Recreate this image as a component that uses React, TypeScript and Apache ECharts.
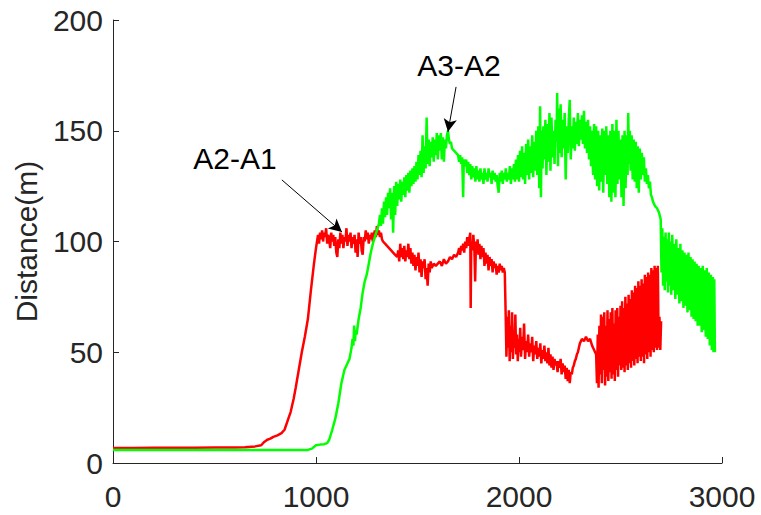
import React, { useEffect, useRef } from "react";
import * as echarts from "echarts";

// A2-A1 (red) distance samples [time, distance]
const redPoints: [number, number][] = [
  [0, 6.8], [100, 6.8], [200, 6.9], [300, 6.9], [400, 6.9], [500, 7], [600, 7], [650, 7.1], [700, 7.5],
  [730, 8], [745, 9.5], [760, 10.5], [775, 11], [790, 11.8], [810, 12.5], [830, 13.5], [845, 15],
  [860, 19], [875, 23], [890, 29], [900, 34], [915, 42], [930, 50], [945, 57], [960, 65], [975, 78], [990, 90],
  [1000, 97], [1005, 100], [1010, 103], [1015, 99], [1020, 104], [1025, 101], [1030, 105], [1035, 100],
  [1040, 104], [1045, 102], [1050, 106], [1055, 99], [1060, 103], [1065, 101], [1070, 97], [1075, 104],
  [1080, 100], [1085, 103], [1090, 98], [1095, 102], [1100, 95], [1105, 93], [1110, 101], [1115, 97],
  [1120, 104], [1125, 99], [1130, 103], [1135, 97], [1140, 102], [1145, 100], [1150, 106], [1155, 98],
  [1160, 103], [1165, 100], [1170, 104], [1175, 97], [1180, 102], [1185, 99], [1190, 103], [1195, 95],
  [1200, 101], [1205, 93], [1210, 104], [1215, 99], [1220, 102], [1225, 96], [1230, 94], [1235, 102],
  [1240, 100], [1245, 105], [1250, 101], [1255, 104], [1260, 99], [1265, 103], [1270, 101], [1275, 104],
  [1280, 100], [1285, 103], [1290, 105], [1295, 102], [1300, 107], [1305, 103], [1310, 105], [1315, 102],
  [1320, 104], [1325, 101], [1330, 100],
  [1340, 99], [1350, 98], [1360, 97], [1370, 96], [1380, 95], [1390, 94], [1400, 93], [1405, 96],
  [1410, 91], [1415, 99], [1420, 93], [1425, 97], [1430, 92], [1435, 98], [1440, 91], [1445, 96],
  [1450, 93], [1455, 99], [1460, 92], [1465, 97], [1470, 90], [1475, 95], [1480, 89], [1485, 94],
  [1490, 87], [1495, 93], [1500, 89], [1505, 95], [1510, 86], [1515, 92], [1520, 84], [1525, 91],
  [1530, 88], [1535, 92], [1540, 83], [1545, 88], [1550, 80], [1555, 90], [1560, 86], [1565, 91],
  [1570, 88], [1580, 90], [1590, 89], [1600, 90], [1610, 91], [1620, 89], [1630, 92], [1640, 90],
  [1650, 91], [1660, 93], [1670, 92], [1680, 94], [1690, 93], [1700, 95], [1705, 97], [1710, 94],
  [1715, 98], [1720, 96], [1725, 99], [1730, 95], [1735, 100], [1740, 97], [1745, 102], [1750, 98],
  [1755, 101], [1760, 104], [1762, 70], [1765, 100], [1770, 96], [1775, 103], [1780, 97], [1784, 82],
  [1788, 100], [1792, 95], [1796, 101], [1800, 94], [1805, 99], [1810, 92], [1815, 98], [1820, 93],
  [1825, 97], [1830, 89], [1835, 95], [1840, 90], [1845, 94], [1850, 87], [1855, 93], [1860, 89],
  [1865, 92], [1870, 86], [1875, 91], [1880, 88], [1885, 90], [1890, 85], [1895, 89], [1900, 86],
  [1905, 90], [1910, 87], [1915, 89], [1920, 86], [1925, 88], [1930, 86],
  [1935, 64], [1938, 48], [1942, 66], [1946, 52], [1950, 69], [1954, 46], [1958, 62], [1962, 50],
  [1966, 68], [1970, 47], [1974, 60], [1978, 52], [1982, 67], [1986, 49], [1990, 58], [1994, 46],
  [1998, 56], [2002, 50], [2006, 61], [2010, 48], [2015, 57], [2020, 51], [2025, 63], [2030, 47],
  [2035, 55], [2040, 50], [2045, 58], [2050, 48], [2055, 54], [2060, 50], [2065, 57], [2070, 46],
  [2075, 53], [2080, 49], [2085, 55], [2090, 47], [2095, 52], [2100, 48], [2105, 54], [2110, 45],
  [2115, 51], [2120, 47], [2125, 53], [2130, 46], [2135, 50], [2140, 45], [2145, 52], [2150, 44],
  [2155, 49], [2160, 43], [2165, 48], [2170, 42], [2175, 47], [2180, 44], [2185, 46], [2190, 41],
  [2195, 46], [2200, 43], [2205, 47], [2210, 40], [2215, 45], [2220, 41], [2225, 44], [2230, 38],
  [2235, 43], [2240, 37], [2245, 42], [2250, 36], [2255, 41], [2260, 40], [2265, 43], [2270, 44],
  [2275, 46], [2280, 47], [2285, 49], [2290, 50], [2295, 52], [2300, 54], [2310, 56], [2320, 55],
  [2330, 57], [2340, 55], [2350, 56], [2360, 53], [2370, 51], [2380, 49],
  [2384, 36], [2388, 58], [2392, 34], [2396, 62], [2400, 40], [2404, 67], [2408, 36], [2412, 66],
  [2416, 42], [2420, 68], [2424, 35], [2428, 62], [2432, 39], [2436, 69], [2440, 37], [2444, 65],
  [2448, 41], [2452, 68], [2456, 38], [2460, 70], [2464, 40], [2468, 63], [2472, 37], [2476, 69],
  [2480, 42], [2484, 70], [2488, 39], [2492, 66], [2496, 44], [2500, 71], [2504, 42], [2508, 73],
  [2512, 43], [2516, 70], [2520, 41], [2524, 75], [2528, 44], [2532, 72], [2536, 42], [2540, 76],
  [2544, 45], [2548, 74], [2552, 43], [2556, 78], [2560, 46], [2564, 77], [2568, 44], [2572, 80],
  [2576, 47], [2580, 79], [2584, 45], [2588, 82], [2592, 48], [2596, 80], [2600, 46], [2604, 83],
  [2608, 48], [2612, 81], [2616, 45], [2620, 85], [2624, 49], [2628, 84], [2632, 47], [2636, 86],
  [2640, 50], [2644, 85], [2648, 48], [2652, 88], [2656, 51], [2660, 87], [2664, 50], [2668, 89],
  [2672, 52], [2676, 88], [2680, 51], [2684, 89], [2688, 52], [2692, 66], [2696, 51], [2700, 64],
];

// A3-A2 (green) distance samples [time, distance]
const greenPoints: [number, number][] = [
  [0, 5.9], [200, 5.9], [400, 5.9], [600, 5.9], [800, 5.9], [960, 5.9], [980, 6.5], [1000, 8],
  [1020, 8.3], [1040, 8.5], [1055, 9], [1065, 10.5], [1080, 15], [1095, 20], [1110, 27], [1125, 36],
  [1140, 42], [1155, 45], [1165, 47], [1175, 52], [1180, 56], [1184, 53], [1188, 62], [1192, 55],
  [1196, 60], [1200, 58], [1210, 65], [1220, 70], [1230, 77], [1240, 82], [1250, 85], [1260, 90],
  [1270, 95], [1280, 99], [1290, 102], [1300, 105], [1310, 108],
  [1315, 112], [1320, 107], [1325, 115], [1330, 108], [1335, 118], [1340, 111], [1345, 120], [1350, 112],
  [1355, 122], [1360, 115], [1365, 124], [1370, 110], [1375, 122], [1380, 104], [1385, 125], [1390, 112],
  [1395, 127], [1400, 116], [1405, 126], [1410, 119], [1415, 128], [1420, 118], [1425, 127], [1430, 121],
  [1435, 129], [1440, 120], [1445, 130], [1450, 123], [1455, 131], [1460, 122], [1465, 132], [1470, 125],
  [1475, 133], [1480, 126], [1485, 134], [1490, 127], [1495, 136], [1500, 128], [1505, 139], [1510, 130],
  [1515, 141], [1520, 129], [1525, 148], [1530, 131], [1535, 143], [1540, 133], [1545, 156], [1550, 135],
  [1555, 146], [1560, 134], [1565, 145], [1570, 138], [1575, 147], [1580, 136], [1585, 146], [1590, 139],
  [1595, 149], [1600, 137], [1605, 148], [1610, 141], [1615, 149], [1620, 137], [1625, 147], [1630, 136],
  [1635, 146], [1640, 142], [1645, 148], [1650, 150],
  [1655, 146], [1660, 144], [1665, 145], [1670, 142], [1680, 141], [1690, 140], [1700, 139], [1705, 136],
  [1710, 139], [1715, 135], [1720, 138], [1725, 120], [1728, 137], [1735, 134], [1740, 137], [1745, 131],
  [1750, 136], [1755, 130], [1760, 135], [1765, 128], [1770, 134], [1775, 129], [1780, 133], [1785, 127],
  [1790, 134], [1795, 128], [1800, 132], [1805, 127], [1810, 133], [1815, 128], [1820, 131], [1825, 126],
  [1830, 133], [1835, 128], [1840, 131], [1845, 127], [1850, 133], [1855, 129], [1860, 131], [1865, 126],
  [1870, 132], [1875, 128], [1880, 131], [1885, 127], [1890, 130], [1895, 125], [1900, 122], [1905, 131],
  [1910, 127], [1915, 132], [1920, 126], [1925, 131], [1930, 128], [1935, 133], [1940, 127], [1945, 131],
  [1950, 128], [1955, 134], [1960, 126], [1965, 133], [1970, 128], [1975, 135], [1980, 127],
  [1985, 137], [1990, 128], [1995, 139], [2000, 127], [2005, 141], [2010, 129], [2015, 143], [2020, 128],
  [2025, 140], [2030, 126], [2035, 144], [2040, 130], [2045, 146], [2050, 128], [2055, 143], [2060, 131],
  [2065, 148], [2070, 129], [2075, 145], [2080, 132], [2085, 150], [2090, 130], [2095, 152], [2100, 124],
  [2104, 161], [2108, 120], [2112, 150], [2116, 133], [2120, 152], [2125, 137], [2130, 155], [2135, 130],
  [2140, 153], [2145, 136], [2150, 158], [2155, 132], [2160, 156], [2165, 138], [2170, 150], [2175, 135],
  [2180, 155], [2185, 145], [2188, 167], [2192, 134], [2196, 160], [2200, 140], [2205, 162], [2210, 138],
  [2215, 155], [2220, 142], [2225, 158], [2230, 128], [2235, 152], [2240, 140], [2245, 155], [2250, 164],
  [2255, 137], [2260, 152], [2265, 142], [2270, 156], [2275, 141], [2280, 154], [2285, 144], [2290, 158],
  [2295, 143], [2300, 155], [2305, 146], [2310, 157], [2315, 144], [2320, 159], [2325, 142], [2330, 154],
  [2335, 140], [2340, 155], [2345, 137], [2350, 152], [2355, 134], [2360, 150], [2365, 130], [2370, 153],
  [2375, 128], [2380, 152], [2385, 125], [2390, 150], [2395, 123], [2400, 148], [2405, 127], [2410, 151],
  [2415, 122], [2420, 150], [2425, 130], [2430, 152], [2435, 126], [2440, 148], [2445, 120], [2450, 150],
  [2455, 118], [2460, 153], [2465, 122], [2470, 150], [2475, 120], [2480, 155], [2485, 126], [2490, 150],
  [2495, 128], [2500, 146], [2505, 120], [2510, 148], [2515, 116], [2520, 150], [2525, 124], [2530, 148],
  [2535, 130], [2538, 158], [2542, 135], [2546, 150], [2550, 132], [2555, 148], [2560, 128], [2565, 146],
  [2570, 127], [2575, 145], [2580, 124], [2585, 143], [2590, 122], [2595, 142], [2600, 128], [2605, 140],
  [2610, 130], [2615, 138], [2620, 127], [2625, 133], [2630, 126], [2635, 130], [2640, 124], [2645, 127],
  [2650, 121], [2655, 120], [2660, 118], [2665, 117], [2670, 116], [2680, 115], [2690, 113], [2698, 110],
  [2702, 86], [2706, 106], [2710, 80], [2714, 102], [2718, 78], [2722, 104], [2726, 82], [2730, 101],
  [2734, 77], [2738, 104], [2742, 80], [2746, 100], [2750, 76], [2755, 103], [2760, 78], [2765, 99],
  [2770, 74], [2775, 101], [2780, 76], [2785, 97], [2790, 72], [2795, 99], [2800, 73], [2805, 96],
  [2810, 70], [2815, 95], [2820, 71], [2825, 94], [2830, 68], [2835, 95], [2840, 69], [2845, 93],
  [2850, 66], [2855, 92], [2860, 65], [2865, 91], [2870, 64], [2875, 90], [2880, 62], [2885, 89],
  [2890, 62], [2895, 88], [2900, 59], [2905, 89], [2910, 60], [2915, 87], [2920, 57], [2925, 88],
  [2930, 56], [2935, 86], [2940, 53], [2945, 85], [2950, 51], [2955, 84], [2958, 50], [2962, 83], [2965, 50],
];

const xRange = [0, 3000];
const xStep = 1000;
const yRange = [0, 200];
const yStep = 50;
const yName = "Distance(m)";

// annotations: label position, arrow start, arrow tip (data coords)
const annotations = [
  { text: "A2-A1", label: [601, 137.5], from: [832, 127.8], to: [1128, 104.3] },
  { text: "A3-A2", label: [1704, 179.5], from: [1690, 169.8], to: [1650, 149.5] },
];

const FONT = '"Liberation Sans", Arial, Helvetica, sans-serif';
const AXIS = "#262626";

export default function App() {
  const ref = useRef<HTMLDivElement>(null);
  useEffect(() => {
    const chart = echarts.init(ref.current!, null, { renderer: "svg" });
    chart.setOption({
      animation: false,
      backgroundColor: "#ffffff",
      grid: { left: 113, top: 20, right: 39, bottom: 52, containLabel: false },
      xAxis: {
        type: "value",
        min: xRange[0],
        max: xRange[1],
        interval: xStep,
        axisLine: { show: true, lineStyle: { color: AXIS, width: 1 } },
        axisTick: { show: true, inside: true, length: 6, lineStyle: { color: AXIS } },
        axisLabel: { color: AXIS, fontSize: 30, fontFamily: FONT, margin: 18, formatter: (v: number) => String(v) },
        splitLine: { show: false },
      },
      yAxis: {
        type: "value",
        min: yRange[0],
        max: yRange[1],
        interval: yStep,
        name: yName,
        nameLocation: "middle",
        nameGap: 72,
        nameTextStyle: { color: AXIS, fontSize: 30, fontFamily: FONT },
        axisLine: { show: true, lineStyle: { color: AXIS, width: 1 } },
        axisTick: { show: true, inside: true, length: 6, lineStyle: { color: AXIS } },
        axisLabel: { color: AXIS, fontSize: 30, fontFamily: FONT, margin: 10, formatter: (v: number) => String(v) },
        splitLine: { show: false },
      },
      series: [
        {
          name: "A2-A1",
          type: "line",
          data: redPoints,
          showSymbol: false,
          lineStyle: { color: "#ff0000", width: 2.5 },
          itemStyle: { color: "#ff0000" },
          z: 2,
        },
        {
          name: "A3-A2",
          type: "line",
          data: greenPoints,
          showSymbol: false,
          lineStyle: { color: "#00ff00", width: 2.5 },
          itemStyle: { color: "#00ff00" },
          z: 3,
          markLine: {
            silent: true,
            symbol: ["none", "arrow"],
            symbolSize: [10, 13],
            label: { show: false },
            lineStyle: { color: "#000000", width: 1, type: "solid" },
            data: annotations.map((a) => [{ coord: a.from }, { coord: a.to }]),
          },
        },
      ],
    });
    const graphics = annotations.map((a) => {
      const p = chart.convertToPixel({ gridIndex: 0 }, a.label) as number[];
      return {
        type: "text",
        x: p[0],
        y: p[1],
        z: 10,
        style: {
          text: a.text,
          fill: "#000000",
          fontSize: 30,
          fontFamily: FONT,
          textAlign: "center",
          textVerticalAlign: "middle",
        },
      };
    });
    chart.setOption({ graphic: graphics });
    return () => chart.dispose();
  }, []);
  return (
    <div
      ref={ref}
      style={{ position: "absolute", left: 0, top: 0, width: 761, height: 515 }}
    />
  );
}
